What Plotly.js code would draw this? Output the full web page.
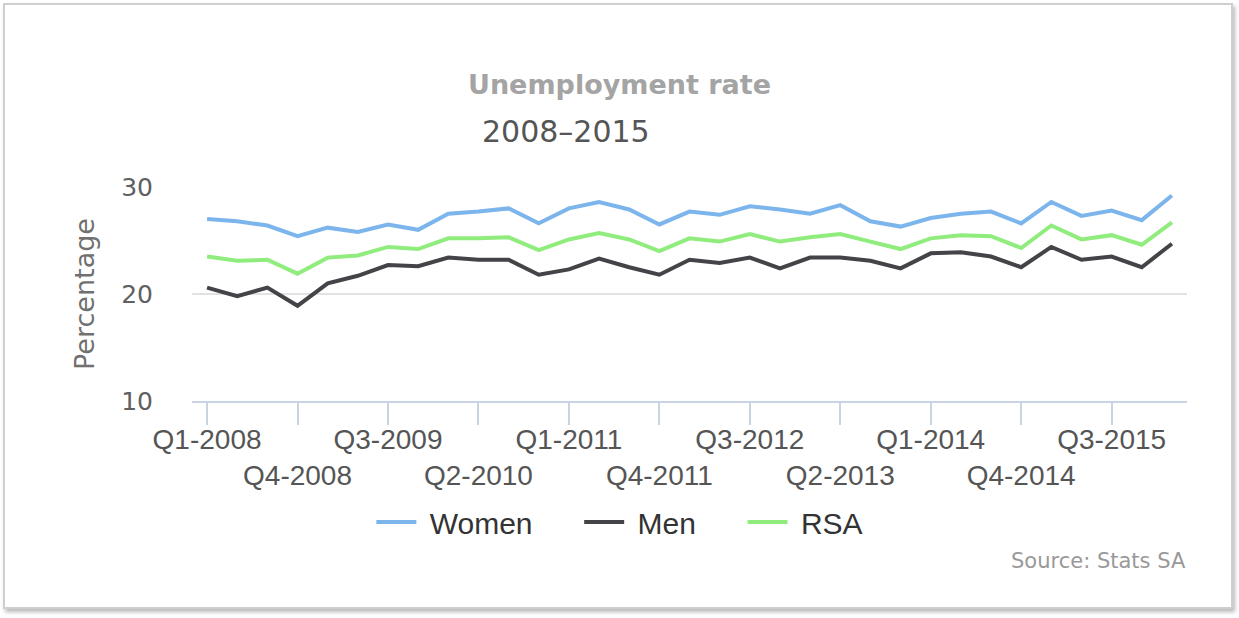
<!DOCTYPE html>
<html>
<head>
<meta charset="utf-8">
<script src="https://cdn.plot.ly/plotly-3.0.1.min.js"></script>
<style>
  html, body { margin: 0; padding: 0; background: #ffffff; }
  #frame { position: absolute; left: 3px; top: 3px; width: 1230px; height: 606px; box-sizing: border-box;
           border: 2px solid #cfcfcf; box-shadow: 2px 3px 4px rgba(0,0,0,0.28); background: #ffffff; }
  #chart { position: absolute; left: 0; top: 0; width: 1239px; height: 618px; }
</style>
</head>
<body>
<div id="frame"></div>
<div id="chart"></div>
<script>
// Quarters Q1-2008 .. Q1-2016
var quarters = [
  'Q1-2008','Q2-2008','Q3-2008','Q4-2008',
  'Q1-2009','Q2-2009','Q3-2009','Q4-2009',
  'Q1-2010','Q2-2010','Q3-2010','Q4-2010',
  'Q1-2011','Q2-2011','Q3-2011','Q4-2011',
  'Q1-2012','Q2-2012','Q3-2012','Q4-2012',
  'Q1-2013','Q2-2013','Q3-2013','Q4-2013',
  'Q1-2014','Q2-2014','Q3-2014','Q4-2014',
  'Q1-2015','Q2-2015','Q3-2015','Q4-2015',
  'Q1-2016'
];

// Unemployment rate (%)
var women = [27.0, 26.8, 26.4, 25.4, 26.2, 25.8, 26.5, 26.0, 27.5, 27.7, 28.0, 26.6,
             28.0, 28.6, 27.9, 26.5, 27.7, 27.4, 28.2, 27.9, 27.5, 28.3, 26.8, 26.3,
             27.1, 27.5, 27.7, 26.6, 28.6, 27.3, 27.8, 26.9, 29.2];
var men   = [20.6, 19.8, 20.6, 18.9, 21.0, 21.7, 22.7, 22.6, 23.4, 23.2, 23.2, 21.8,
             22.3, 23.3, 22.5, 21.8, 23.2, 22.9, 23.4, 22.4, 23.4, 23.4, 23.1, 22.4,
             23.8, 23.9, 23.5, 22.5, 24.4, 23.2, 23.5, 22.5, 24.7];
var rsa   = [23.5, 23.1, 23.2, 21.9, 23.4, 23.6, 24.4, 24.2, 25.2, 25.2, 25.3, 24.1,
             25.1, 25.7, 25.1, 24.0, 25.2, 24.9, 25.6, 24.9, 25.3, 25.6, 24.9, 24.2,
             25.2, 25.5, 25.4, 24.3, 26.4, 25.1, 25.5, 24.6, 26.7];

var seriesNames = ['Women', 'Men', 'RSA'];
var seriesColors = ['#7cb5ec', '#434348', '#90ed7d'];

var tickLabels = ['Q1-2008','Q4-2008','Q3-2009','Q2-2010','Q1-2011','Q4-2011',
                  'Q3-2012','Q2-2013','Q1-2014','Q4-2014','Q3-2015'];
var yTicks = [10, 20, 30];

var titleText = 'Unemployment rate';
var subtitleText = '2008\u20132015';
var yTitleText = 'Percentage';
var creditText = 'Source: Stats SA';

// staggered labels: every second label on a lower row
var tickTextStaggered = tickLabels.map(function (t, i) { return (i % 2 === 1 ? '<br>' : '') + t; });

// legend spacing (gap after symbol, gap between entries)
var NB = '\u00a0';
function legendName(name, i, n) {
  return NB + name + (i < n - 1 ? NB + NB + NB + NB + NB : '');
}

var allSeries = [women, men, rsa];
var traces = allSeries.map(function (vals, i) {
  return {
    x: quarters, y: vals, type: 'scatter', mode: 'lines',
    name: legendName(seriesNames[i], i, allSeries.length),
    line: { color: seriesColors[i], width: 4 },
    hoverinfo: 'x+y'
  };
});

var sans = 'Liberation Sans, Arial, sans-serif';
var dv = 'DejaVu Sans, Verdana, sans-serif';

var layout = {
  width: 1239, height: 618,
  paper_bgcolor: 'rgba(0,0,0,0)', plot_bgcolor: 'rgba(0,0,0,0)',
  margin: { l: 192, r: 52, t: 187, b: 217, pad: 0 },
  showlegend: true,
  title: {
    text: '<b>' + titleText + '</b>',
    font: { family: dv, size: 27, color: '#a4a4a4' },
    x: 0.5, xref: 'container', xanchor: 'center',
    y: 1 - 85 / 618, yref: 'container', yanchor: 'middle'
  },
  xaxis: {
    type: 'category',
    range: [-0.5, quarters.length - 0.5],
    tickmode: 'array', tickvals: tickLabels, ticktext: tickTextStaggered,
    tickangle: 0,
    ticks: 'outside', ticklen: 22, tickwidth: 2, tickcolor: '#c8d4e2',
    ticklabelstandoff: -10,
    showline: true, linecolor: '#c8d4e2', linewidth: 2,
    showgrid: false, zeroline: false,
    tickfont: { family: sans, size: 28, color: '#555555' },
    fixedrange: true
  },
  yaxis: {
    range: [10, 30],
    tickmode: 'array', tickvals: yTicks,
    showgrid: true, gridcolor: '#e2e2e2', gridwidth: 2,
    zeroline: false, showline: false, ticks: '',
    ticklabelstandoff: 38,
    tickfont: { family: dv, size: 25, color: '#606060' },
    title: { text: yTitleText, font: { family: dv, size: 27, color: '#707070' }, standoff: 18 },
    fixedrange: true
  },
  legend: {
    orientation: 'h',
    x: 0.43, xanchor: 'center',
    y: -0.565, yanchor: 'middle',
    font: { family: sans, size: 30, color: '#333333' },
    itemwidth: 40,
    bgcolor: 'rgba(0,0,0,0)'
  },
  annotations: [
    {
      text: subtitleText, xref: 'paper', yref: 'paper',
      x: (566 - 192) / 995, y: (401 - 131.7) / 214, xanchor: 'center', yanchor: 'middle',
      showarrow: false, font: { family: dv, size: 30, color: '#555555' }
    },
    {
      text: creditText, xref: 'paper', yref: 'paper',
      x: (1188 - 192) / 995, y: (401 - 561) / 214, xanchor: 'right', yanchor: 'middle',
      showarrow: false, font: { family: dv, size: 21, color: '#999999' }
    }
  ]
};

Plotly.newPlot('chart', traces, layout, { displayModeBar: false, staticPlot: true });
</script>
</body>
</html>
